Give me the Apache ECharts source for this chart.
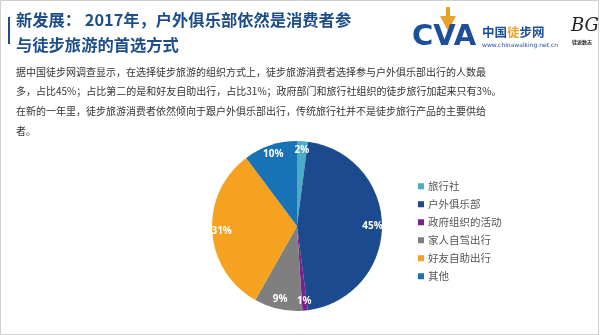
<!DOCTYPE html>
<html>
<head>
<meta charset="utf-8">
<script src="https://cdn.jsdelivr.net/npm/echarts@6/dist/echarts.min.js"></script>
<style>
html,body{margin:0;padding:0;background:#fff;}
#c{width:600px;height:335px;}
</style>
</head>
<body>
<div id="c"></div>
<script>
var categories = ['旅行社', '户外俱乐部', '政府组织的活动', '家人自驾出行', '好友自助出行', '其他'];
var values = [2, 45, 1, 9, 31, 10];
var colors = ['#4bacc6', '#1b4a8f', '#7a1f8e', '#7f7f7f', '#f4a21f', '#1a72b6'];
var titleLines = ['新发展： 2017年，户外俱乐部依然是消费者参', '与徒步旅游的首选方式'];
var bodyLines = [
  '据中国徒步网调查显示，在选择徒步旅游的组织方式上，徒步旅游消费者选择参与户外俱乐部出行的人数最',
  '多，占比45%；占比第二的是和好友自助出行，占比31%；政府部门和旅行社组织的徒步旅行加起来只有3%。',
  '在新的一年里，徒步旅游消费者依然倾向于跟户外俱乐部出行，传统旅行社并不是徒步旅行产品的主要供给',
  '者。'
];

var FONT = '"Noto Sans CJK SC", "Noto Sans", sans-serif';
var chart = echarts.init(document.getElementById('c'), null, {renderer: 'canvas'});

var pieData = categories.map(function (n, i) {
  return {name: n, value: values[i], itemStyle: {color: colors[i]}};
});

var graphics = [];
graphics.push({type: 'rect', shape: {x: 0.5, y: 0.5, width: 598, height: 334}, style: {fill: 'none', stroke: '#d0d0d0', lineWidth: 1}, silent: true});
graphics.push({type: 'rect', shape: {x: 8, y: 17, width: 2, height: 27}, style: {fill: '#1d4e89'}});
titleLines.forEach(function (t, i) {
  graphics.push({type: 'text', left: 16, top: 12 + i * 25, style: {text: t, fill: '#1d4e89', font: 'bold 16.3px ' + FONT}});
});
bodyLines.forEach(function (t, i) {
  graphics.push({type: 'text', left: 16, top: 67 + i * 19.7, style: {text: t, fill: '#333333', font: '10px ' + FONT}});
});
// logo approximation
graphics.push({type: 'polygon', shape: {points: [[440, 16], [456, 16], [448, 31]]}, style: {fill: '#e9a227'}});
graphics.push({type: 'rect', shape: {x: 446, y: 7, width: 4, height: 12}, style: {fill: '#e9a227'}});
graphics.push({type: 'text', left: 412, top: 23, style: {text: 'CVA', fill: '#1d4e9a', font: 'bold 29px "DejaVu Sans", sans-serif'}});
graphics.push({type: 'text', left: 482, top: 26, style: {text: '中国', fill: '#1d4e9a', font: 'bold 12.5px ' + FONT}});
graphics.push({type: 'text', left: 507, top: 26, style: {text: '徒', fill: '#e9a227', font: 'bold 12.5px ' + FONT}});
graphics.push({type: 'text', left: 519.5, top: 26, style: {text: '步网', fill: '#1d4e9a', font: 'bold 12.5px ' + FONT}});
graphics.push({type: 'text', left: 482, top: 42, style: {text: 'www.chinawalking.net.cn', fill: '#1d4e9a', font: '6px "DejaVu Sans", sans-serif'}});
graphics.push({type: 'text', left: 571, top: 17, style: {text: 'BG', fill: '#222', font: 'italic 18px "DejaVu Serif", serif'}});
graphics.push({type: 'text', left: 572, top: 40, style: {text: '徒说数志', fill: '#222', font: 'bold 5px ' + FONT}});

chart.setOption({
  animation: false,
  backgroundColor: '#ffffff',
  legend: {
    orient: 'vertical',
    left: 413,
    top: 176,
    itemWidth: 6,
    itemHeight: 6,
    itemGap: 7.5,
    icon: 'rect',
    data: categories,
    textStyle: {color: '#555555', fontSize: 10.5, fontFamily: FONT, padding: [0, 0, 0, -1]}
  },
  graphic: graphics,
  series: [
    {
      type: 'pie',
      center: [297, 226],
      radius: [0, 85],
      startAngle: 90,
      clockwise: true,
      label: {show: false},
      labelLine: {show: false},
      itemStyle: {borderWidth: 0},
      data: pieData,
      silent: true
    },
    {
      type: 'pie',
      center: [297, 226],
      radius: [60, 85],
      startAngle: 90,
      clockwise: true,
      legendHoverLink: false,
      silent: true,
      itemStyle: {color: 'rgba(0,0,0,0)', borderWidth: 0},
      label: {
        show: true,
        position: 'inside',
        formatter: '{c}%',
        color: '#ffffff',
        fontWeight: 'bold',
        fontSize: 10,
        fontFamily: '"Open Sans", "DejaVu Sans", sans-serif'
      },
      labelLine: {show: false},
      data: categories.map(function (n, i) {
        return {name: n + ' ', value: values[i]};
      })
    }
  ]
});
</script>
</body>
</html>
